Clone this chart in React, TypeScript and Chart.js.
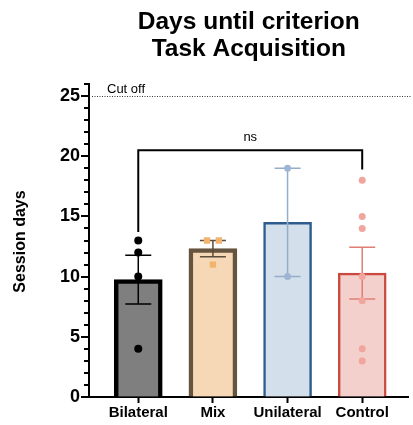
import React, { useEffect, useRef } from "react";
import { Chart, registerables } from "chart.js";

Chart.register(...registerables);

const categories = ["Bilateral", "Mix", "Unilateral", "Control"];
const barMeans = [9.75, 12.33, 14.5, 10.29];
const barSem = [2.02, 0.67, 4.5, 2.15];
const bilateralPoints = [13, 12, 10, 4];
const mixPoints = [13, 13, 11];
const mixJitter = [-0.08, 0.08, 0];
const unilateralPoints = [19, 10];
const controlPoints = [18, 15, 14, 10, 8, 4, 3];
const cutOff = 25;
const bracket = { y: 20.5, leftEnd: 13.7, rightEnd: 18.9, from: 0, to: 3, label: "ns" };
const yTicks = Array.from({ length: 27 }, (_, i) => i);

const fills = ["#7f7f7f", "#f6d8b7", "#d3dfeb", "#f4d0cd"];
const borders = ["#000000", "#65553e", "#2e5d8d", "#ca4a40"];
const borderWidths = [4.5, 4.5, 2.5, 2.5];
const errColors = ["#000000", "#5b4d3a", "#93aecb", "#df7f76"];
const pointColors = ["#000000", "#f0b46f", "#9eb6d1", "#f0a59e"];

const FONT = "Arial, 'Liberation Sans', Helvetica, sans-serif";

export default function App() {
  const ref = useRef<HTMLCanvasElement | null>(null);
  useEffect(() => {
    const canvas = ref.current;
    if (!canvas) return;

    const overlay = {
      id: "overlay",
      afterDatasetDraw(chart: any, args: any) {
        if (args.index !== 0) return;
        const ctx = chart.ctx;
        const xs = chart.scales.x;
        const ys = chart.scales.y;
        ctx.save();
        barMeans.forEach((m, i) => {
          const x = xs.getPixelForValue(i);
          const top = ys.getPixelForValue(m + barSem[i]);
          const bot = ys.getPixelForValue(m - barSem[i]);
          ctx.strokeStyle = errColors[i];
          ctx.lineWidth = 1.5;
          ctx.beginPath();
          ctx.moveTo(x, top);
          ctx.lineTo(x, bot);
          ctx.moveTo(x - 13, top);
          ctx.lineTo(x + 13, top);
          ctx.moveTo(x - 13, bot);
          ctx.lineTo(x + 13, bot);
          ctx.stroke();
        });
        ctx.restore();
      },
      afterDraw(chart: any) {
        const ctx = chart.ctx;
        const xs = chart.scales.x;
        const ys = chart.scales.y;
        const area = chart.chartArea;
        ctx.save();
        // y ticks
        ctx.strokeStyle = "#000";
        ctx.lineWidth = 2;
        yTicks.forEach((v) => {
          const y = Math.round(ys.getPixelForValue(v));
          const len = v % 5 === 0 ? 8 : 5;
          ctx.beginPath();
          ctx.moveTo(area.left - len, y);
          ctx.lineTo(area.left, y);
          ctx.stroke();
        });
        // cut off line
        const cy = Math.round(ys.getPixelForValue(cutOff)) + 0.5;
        ctx.lineWidth = 1;
        ctx.strokeStyle = "#333";
        ctx.setLineDash([1, 1.5]);
        ctx.beginPath();
        ctx.moveTo(area.left + 3, cy);
        ctx.lineTo(area.right + 2, cy);
        ctx.stroke();
        ctx.setLineDash([]);
        ctx.strokeStyle = "#000";
        ctx.fillStyle = "#000";
        ctx.font = `13px ${FONT}`;
        ctx.textAlign = "left";
        ctx.textBaseline = "alphabetic";
        ctx.fillText("Cut off", area.left + 18, cy - 4);
        // bracket
        const bx1 = xs.getPixelForValue(bracket.from);
        const bx2 = xs.getPixelForValue(bracket.to);
        const by = ys.getPixelForValue(bracket.y);
        ctx.lineWidth = 2;
        ctx.beginPath();
        ctx.moveTo(bx1, ys.getPixelForValue(bracket.leftEnd));
        ctx.lineTo(bx1, by);
        ctx.lineTo(bx2, by);
        ctx.lineTo(bx2, ys.getPixelForValue(bracket.rightEnd));
        ctx.stroke();
        ctx.font = `13px ${FONT}`;
        ctx.textAlign = "center";
        ctx.textBaseline = "bottom";
        ctx.fillText(bracket.label, (bx1 + bx2) / 2, by - 6);
        // title
        const cx = (area.left + area.right) / 2;
        ctx.font = `bold 24.5px ${FONT}`;
        ctx.textBaseline = "middle";
        ctx.fillText("Days until criterion", cx, 22);
        ctx.fillText("Task Acquisition", cx, 49);
        // y title
        ctx.translate(21, (area.top + area.bottom) / 2 + 1);
        ctx.rotate(-Math.PI / 2);
        ctx.font = `bold 16px ${FONT}`;
        ctx.fillText("Session days", 0, 0);
        ctx.restore();
      },
    };

    const pointDs = (pts: number[], i: number, style: string, r: number, jitter?: number[]) => ({
      type: "scatter" as const,
      data: pts.map((v, k) => ({ x: i + (jitter ? jitter[k] : 0), y: v })),
      backgroundColor: pointColors[i],
      borderColor: pointColors[i],
      pointStyle: style,
      pointRadius: r,
      borderWidth: 0,
      order: 1,
    });

    const chart = new Chart(canvas, {
      type: "bar",
      data: {
        datasets: [
          {
            type: "bar",
            data: barMeans.map((m, i) => ({ x: i, y: m })),
            backgroundColor: fills,
            borderColor: borders,
            borderWidth: borderWidths,
            borderSkipped: "bottom",
            barThickness: 48,
            order: 2,
          } as any,
          pointDs(bilateralPoints, 0, "circle", 4),
          pointDs(mixPoints, 1, "rect", 4.5, mixJitter),
          pointDs(unilateralPoints, 2, "circle", 3.5),
          pointDs(controlPoints, 3, "circle", 3.5),
        ],
      },
      options: {
        responsive: false,
        animation: false,
        layout: { padding: { top: 84, right: 1, left: 0, bottom: 0 } },
        plugins: { legend: { display: false }, tooltip: { enabled: false }, title: { display: false } },
        scales: {
          x: {
            type: "linear",
            offset: false,
            min: -0.66,
            max: 3.62,
            afterBuildTicks: (s: any) => {
              s.ticks = categories.map((_, i) => ({ value: i }));
            },
            afterFit: (s: any) => {
              s.height = 28;
            },
            ticks: {
              callback: (v: any) => categories[Math.round(Number(v))] ?? "",
              color: "#000",
              font: { family: FONT, size: 15, weight: "bold" },
              padding: 1,
              maxRotation: 0,
              autoSkip: false,
            },
            grid: { offset: false, drawOnChartArea: false, tickLength: 6, tickColor: "#000", tickWidth: 2 },
            border: { color: "#000", width: 2 },
          },
          y: {
            type: "linear",
            min: 0,
            max: 26,
            afterBuildTicks: (s: any) => {
              s.ticks = yTicks.map((v) => ({ value: v }));
            },
            afterFit: (s: any) => {
              s.width = 89;
            },
            ticks: {
              callback: (v: any) => (Number(v) % 5 === 0 ? String(v) : ""),
              color: "#000",
              font: { family: FONT, size: 18, weight: "bold" },
              padding: 9,
              autoSkip: false,
            },
            grid: { drawOnChartArea: false, drawTicks: false },
            border: { color: "#000", width: 2 },
          },
        },
      },
      plugins: [overlay],
    } as any);
    return () => chart.destroy();
  }, []);

  return (
    <div style={{ position: "fixed", left: 0, top: 0, width: 413, height: 425, background: "#fff" }}>
      <canvas ref={ref} width={413} height={425} style={{ display: "block" }} />
    </div>
  );
}
